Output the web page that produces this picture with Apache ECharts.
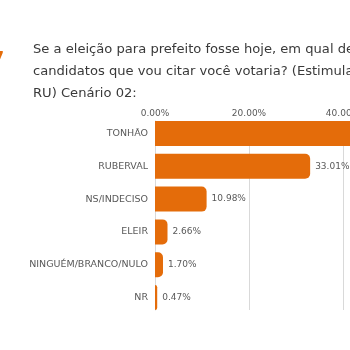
<!DOCTYPE html>
<html>
<head>
<meta charset="utf-8">
<script src="https://cdn.jsdelivr.net/npm/echarts@6/dist/echarts.min.js"></script>
<style>html,body{margin:0;padding:0;background:#fff;}#c{width:350px;height:350px;}</style>
</head>
<body>
<div id="c"></div>
<script>
const categories = ['TONHÃO', 'RUBERVAL', 'NS/INDECISO', 'ELEIR', 'NINGUÉM/BRANCO/NULO', 'NR'];
const values = [51.18, 33.01, 10.98, 2.66, 1.70, 0.47];
const axisMin = 0, axisMax = 60, axisStep = 20;
const titleLines = [
  'Se a eleição para prefeito fosse hoje, em qual dentre os',
  'candidatos que vou citar você votaria? (Estimulada -',
  'RU) Cenário 02:'
];
const pageNo = '07';

const FONT = 'DejaVu Sans';
const fmt = v => Number(v).toFixed(2) + '%';
const chart = echarts.init(document.getElementById('c'), null, {renderer: 'canvas'});
chart.setOption({
  backgroundColor: '#ffffff',
  animation: false,
  textStyle: {fontFamily: FONT},
  graphic: [
    {type: 'text', left: 33, top: 39, style: {text: titleLines.join('\n'), font: '13.1px "' + FONT + '"', lineHeight: 22, fill: '#3a3a3a'}},
    {type: 'text', right: 346, top: 52, style: {text: pageNo, font: 'bold 15px "' + FONT + '"', fill: '#E46C0A'}}
  ],
  grid: [
    {left: 155, top: 121, width: 282, height: 189, containLabel: false, outerBoundsMode: 'none'},
    {left: 155, top: 117.1, width: 282, height: 196.8, containLabel: false, outerBoundsMode: 'none'}
  ],
  xAxis: [
    {gridIndex: 0, type: 'value', position: 'top', min: axisMin, max: axisMax, interval: axisStep,
     axisLine: {show: false}, axisTick: {show: false},
     axisLabel: {formatter: fmt, color: '#595959', fontSize: 9, margin: 3},
     splitLine: {show: true, lineStyle: {color: '#d9d9d9', width: 1}}},
    {gridIndex: 1, type: 'value', min: axisMin, max: axisMax, show: false}
  ],
  yAxis: [
    {gridIndex: 0, type: 'value', min: 0, max: 1, axisLabel: {show: false}, axisTick: {show: false},
     splitLine: {show: false}, axisLine: {show: true, lineStyle: {color: '#d9d9d9', width: 1}}},
    {gridIndex: 1, type: 'category', inverse: true, data: categories,
     axisLine: {show: false}, axisTick: {show: false}, splitLine: {show: false},
     axisLabel: {color: '#595959', fontSize: 9.5, margin: 7}}
  ],
  series: [{
    type: 'bar', xAxisIndex: 1, yAxisIndex: 1, data: values, barWidth: 25,
    itemStyle: {color: '#E46C0A', borderRadius: [0, 5, 5, 0]},
    label: {show: true, position: 'right', distance: 5, formatter: p => fmt(p.value), color: '#595959', fontSize: 9}
  }]
});
</script>
</body>
</html>
